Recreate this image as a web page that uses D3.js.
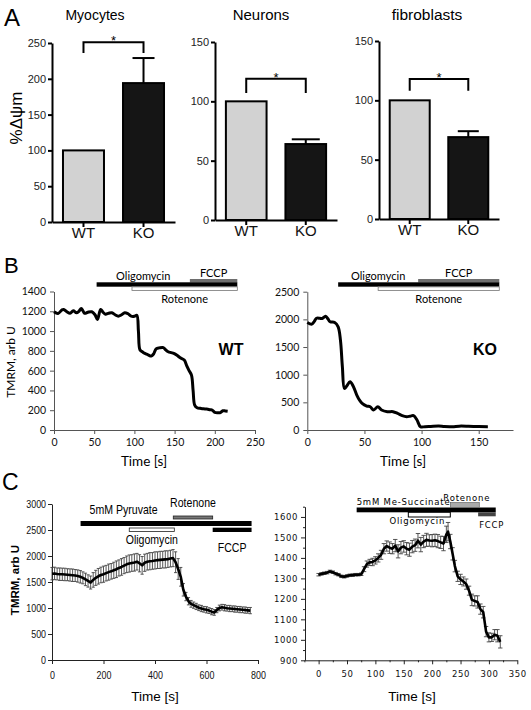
<!DOCTYPE html>
<html><head><meta charset="utf-8">
<script src="https://cdn.jsdelivr.net/npm/d3@7"></script>
<style>body{margin:0;background:#fff}svg{display:block}</style>
</head><body>
<svg id="fig" width="531" height="710"></svg>
<script>
// ---------------- DATA ----------------
const barCategories = ["WT", "KO"];
const myocytesMean = [100, 194];
const myocytesSem = [0, 35];
const neuronsMean = [100, 64];
const neuronsSem = [0, 4];
const fibroblastsMean = [100, 69];
const fibroblastsSem = [0, 5];
const myocytesTicks = [0, 50, 100, 150, 200, 250];
const percentTicks = [0, 50, 100, 150];

const wtTime = [0,5,10,12,16,20,24,28,31,34,38,42,47,51,54,58,61,64,68,72,76,80,84,88,92,96,100,103,105,107,110,113,117,121,124,127,131,136,139,142,146,149,153,157,162,165,168,171,173,175,178,182,186,190,194,197,200,204,207,210,213,216];
const wtTmrm = [1195,1178,1215,1219,1195,1180,1205,1185,1200,1229,1180,1190,1195,1165,1117,1219,1190,1171,1180,1185,1165,1151,1165,1185,1175,1151,1150,1160,1000,808,790,774,760,747,770,820,830,833,810,791,782,774,755,730,707,650,600,555,400,252,225,219,214,212,205,200,178,175,176,195,193,190];
const wtXTicks = [0, 50, 100, 150, 200, 250];
const wtYTicks = [0, 200, 400, 600, 800, 1000, 1200, 1400];
const wtTreatments = [
  {label: "Oligomycin", start: 53, end: 228},
  {label: "FCCP", start: 169, end: 228},
  {label: "Rotenone", start: 97, end: 228}
];

const koTime = [0,4,6,8,11,13,16,18,20,24,27,29,30.7,32.5,34.5,37.4,40.4,43.3,46,48,52,55,58,61.7,65,70,75,79,83,87,90,93,96,99,103,108,115,120,127,133,141,150,158];
const koTmrm = [1944,1914,1960,2020,2020,2015,2057,2010,1956,1944,1866,1625,1143,752,794,872,782,632,530,481,433,420,361,421,361,331,331,300,260,241,250,259,181,60,60,65,72,62,60,70,68,62,60];
const koXTicks = [0, 50, 100, 150];
const koYTicks = [0, 500, 1000, 1500, 2000, 2500];
const koTreatments = [
  {label: "Oligomycin", start: 27, end: 168},
  {label: "FCCP", start: 97, end: 168},
  {label: "Rotenone", start: 62, end: 168}
];

const pyruvateTime = [0,10,20,30,40,50,60,70,80,90,100,110,120,130,140,150,160,170,180,190,200,210,220,230,240,250,260,270,280,290,300,310,320,330,340,350,360,370,380,390,400,410,420,430,440,450,460,470,480,490,500,510,520,530,540,550,560,570,580,590,600,610,620,630,640,650,660,670,680,690,700,710,720,730,740,750,760,770];
const pyruvateMean = [1660,1665,1655,1650,1648,1645,1640,1635,1630,1625,1615,1600,1580,1550,1520,1490,1540,1580,1610,1635,1650,1670,1690,1705,1725,1745,1770,1790,1815,1840,1855,1865,1875,1890,1860,1820,1870,1890,1900,1905,1915,1920,1925,1930,1935,1940,1950,1960,1880,1750,1600,1350,1220,1130,1080,1055,1030,1005,990,975,965,950,930,915,960,1000,1015,1005,995,990,985,980,975,970,965,960,955,950];
const pyruvateSem = [120,120,115,120,118,120,115,118,120,115,118,120,115,120,118,125,140,145,150,150,155,150,155,150,155,160,155,160,155,160,165,160,165,160,165,170,165,160,165,160,165,160,165,160,165,160,160,165,200,200,180,120,80,70,65,60,60,55,60,55,60,55,60,55,50,55,55,60,55,60,55,60,55,60,55,60,55,60];
const pyruvateXTicks = [0, 200, 400, 600, 800];
const pyruvateYTicks = [0, 500, 1000, 1500, 2000, 2500, 3000];
const pyruvateTreatments = [
  {label: "5mM Pyruvate", start: 111, end: 775},
  {label: "Rotenone", start: 471, end: 624},
  {label: "Oligomycin", start: 300, end: 475},
  {label: "FCCP", start: 624, end: 775}
];

const succinateTime = [0,5,10,15,20,25,30,35,40,45,50,55,60,65,70,75,80,85,90,95,100,105,110,115,120,125,130,135,140,145,150,155,160,165,170,175,180,185,190,195,200,205,210,215,220,225,228,232,236,240,245,250,255,260,265,270,275,280,285,290,295,300,305,310,315,320];
const succinateMean = [1318,1322,1325,1328,1334,1330,1323,1318,1310,1308,1312,1315,1316,1318,1318,1320,1345,1370,1378,1380,1388,1400,1415,1445,1458,1450,1445,1460,1432,1450,1456,1445,1440,1455,1462,1484,1465,1480,1488,1485,1484,1486,1482,1476,1470,1515,1528,1480,1420,1360,1310,1295,1285,1272,1240,1195,1190,1185,1150,1135,1040,1012,1012,1025,1020,990];
const succinateSem = [6,6,6,6,6,6,6,6,6,6,6,6,6,6,6,6,12,15,15,18,18,20,22,25,25,28,25,30,32,30,28,30,32,30,30,35,35,30,32,28,30,30,32,30,35,40,45,35,30,28,25,25,22,25,22,28,25,30,25,28,25,22,20,25,30,30];
const succinateXTicks = [0, 50, 100, 150, 200, 250, 300, 350];
const succinateYTicks = [900, 1000, 1100, 1200, 1300, 1400, 1500, 1600];
const succinateTreatments = [
  {label: "5mM Me-Succinate", start: 67, end: 312},
  {label: "Rotenone", start: 232, end: 283},
  {label: "Oligomycin", start: 158, end: 232},
  {label: "FCCP", start: 281, end: 312}
];

// ---------------- DRAWING ----------------
const svg = d3.select("#fig");
const fA = "'Liberation Sans', Arial, sans-serif";
const fB = "Lato, 'Open Sans', sans-serif";
const fC = "'Liberation Sans Narrow', 'Liberation Sans', Arial, sans-serif";
const fCR = "'DejaVu Sans', sans-serif";
const intFmt = d3.format("d");

function panelLetter(txt, x, y, size) {
  svg.append("text").attr("x", x).attr("y", y).attr("font-family", fA)
    .attr("font-size", size).text(txt);
}
panelLetter("A", 4, 26, 24);
panelLetter("B", 4, 273, 22);
panelLetter("C", 2, 490, 23);

// ---- Panel A bar charts ----
const barFills = ["#d2d2d2", "#151515"];
function barPanel(cfg) {
  const g = svg.append("g");
  const x = d3.scaleBand().domain(barCategories).range([cfg.left, cfg.right])
    .paddingInner(0.317).paddingOuter(0.183);
  const y = d3.scaleLinear().domain([0, cfg.max]).range([cfg.bottom, cfg.top]);
  const cx = c => x(c) + x.bandwidth() / 2;

  g.selectAll("rect.bar").data(cfg.mean).join("rect").attr("class", "bar")
    .attr("x", (d, i) => x(barCategories[i])).attr("y", d => y(d))
    .attr("width", x.bandwidth()).attr("height", d => y(0) - y(d))
    .attr("fill", (d, i) => barFills[i]).attr("stroke", "#000").attr("stroke-width", 2);

  cfg.sem.forEach((s, i) => {
    if (!s) return;
    const c = cx(barCategories[i]);
    g.append("line").attr("x1", c).attr("x2", c)
      .attr("y1", y(cfg.mean[i])).attr("y2", y(cfg.mean[i] + s))
      .attr("stroke", "#000").attr("stroke-width", 2);
    g.append("line").attr("x1", c - cfg.cap / 2).attr("x2", c + cfg.cap / 2)
      .attr("y1", y(cfg.mean[i] + s)).attr("y2", y(cfg.mean[i] + s))
      .attr("stroke", "#000").attr("stroke-width", 2);
  });

  const ya = g.append("g").attr("transform", `translate(${cfg.left},0)`)
    .call(d3.axisLeft(y).tickValues(cfg.ticks).tickFormat(intFmt).tickSize(4).tickSizeOuter(0).tickPadding(2));
  const xa = g.append("g").attr("transform", `translate(0,${cfg.bottom})`)
    .call(d3.axisBottom(x).tickSize(5).tickSizeOuter(0).tickPadding(0));
  [ya, xa].forEach(a => {
    a.select(".domain").attr("stroke-width", 2).attr("stroke", "#000");
    a.selectAll(".tick line").attr("stroke-width", 2).attr("stroke", "#000");
  });
  ya.selectAll("text").attr("font-family", fA).attr("font-size", 11).attr("fill", "#222");
  xa.selectAll("text").attr("font-family", fA).attr("font-size", 15).attr("fill", "#111");

  // significance bracket
  const b0 = cx(barCategories[0]), b1 = cx(barCategories[1]);
  g.append("path").attr("d", `M${b0},${y(cfg.brLow)}V${y(cfg.brTop)}H${b1}V${y(cfg.brLow)}`)
    .attr("fill", "none").attr("stroke", "#000").attr("stroke-width", 2);
  g.append("text").attr("x", (b0 + b1) / 2).attr("y", y(cfg.brTop) + 3)
    .attr("text-anchor", "middle").attr("font-family", fA).attr("font-size", 13).text("*");

  g.append("text").attr("x", cfg.titleX).attr("y", 20).attr("text-anchor", "middle")
    .attr("font-family", fA).attr("font-size", cfg.titleSize).text(cfg.title);
}

barPanel({title: "Myocytes", titleX: 95, titleSize: 14, left: 52, right: 175, top: 43, bottom: 222,
  max: 250, ticks: myocytesTicks, mean: myocytesMean, sem: myocytesSem, cap: 22, brTop: 251, brLow: 236});
barPanel({title: "Neurons", titleX: 261, titleSize: 15, left: 215, right: 337, top: 42, bottom: 220,
  max: 150, ticks: percentTicks, mean: neuronsMean, sem: neuronsSem, cap: 28, brTop: 119, brLow: 107});
barPanel({title: "fibroblasts", titleX: 427, titleSize: 15.5, left: 379, right: 499, top: 41, bottom: 219,
  max: 150, ticks: percentTicks, mean: fibroblastsMean, sem: fibroblastsSem, cap: 21, brTop: 118, brLow: 108});

svg.append("text").attr("transform", "translate(22,118) rotate(-90)").attr("text-anchor", "middle")
  .attr("font-family", fA).attr("font-size", 17).text("%\u0394\u03c8m");

// ---- Panel B traces ----
function tracePanel(cfg) {
  const g = svg.append("g");
  const x = d3.scaleLinear().domain(cfg.xDomain).range([cfg.left, cfg.right]);
  const y = d3.scaleLinear().domain(cfg.yDomain).range([cfg.bottom, cfg.top]);
  const ya = g.append("g").attr("transform", `translate(${cfg.left},0)`)
    .call(d3.axisLeft(y).tickValues(cfg.yTicks).tickFormat(intFmt).tickSize(4).tickSizeOuter(0).tickPadding(4));
  const xa = g.append("g").attr("transform", `translate(0,${cfg.bottom})`)
    .call(d3.axisBottom(x).tickValues(cfg.xTicks).tickFormat(intFmt).tickSize(4).tickSizeOuter(0).tickPadding(5));
  [ya, xa].forEach(a => {
    a.select(".domain").attr("stroke", "#555").attr("stroke-width", 1);
    a.selectAll(".tick line").attr("stroke", "#555");
    a.selectAll("text").attr("font-family", fB).attr("font-size", 10.5).attr("fill", "#111");
  });
  const line = d3.line().x((d, i) => x(cfg.time[i])).y(d => y(d)).curve(d3.curveCatmullRom.alpha(0.5));
  g.append("path").datum(cfg.values).attr("d", line).attr("fill", "none")
    .attr("stroke", "#000").attr("stroke-width", 3).attr("stroke-linejoin", "round");

  // treatment bars
  const [oli, fccp, rot] = cfg.treat;
  g.append("rect").attr("x", x(fccp.start)).attr("width", x(fccp.end) - x(fccp.start))
    .attr("y", 279).attr("height", 3.5).attr("fill", "#6e6e6e");
  g.append("rect").attr("x", x(oli.start)).attr("width", x(oli.end) - x(oli.start))
    .attr("y", 282.3).attr("height", 4.4).attr("fill", "#000");
  g.append("rect").attr("x", x(rot.start)).attr("width", x(rot.end) - x(rot.start))
    .attr("y", 286.9).attr("height", 3.6).attr("fill", "#fff").attr("stroke", "#777").attr("stroke-width", 0.8);
  g.append("text").attr("x", (x(oli.start) + x(fccp.start)) / 2).attr("y", 280)
    .attr("text-anchor", "middle").attr("font-family", fB).attr("font-size", 11).text(oli.label);
  g.append("text").attr("x", (x(fccp.start) + x(fccp.end)) / 2).attr("y", 277)
    .attr("text-anchor", "middle").attr("font-family", fB).attr("font-size", 11).text(fccp.label);
  g.append("text").attr("x", (x(rot.start) + x(rot.end)) / 2).attr("y", 302.5)
    .attr("text-anchor", "middle").attr("font-family", fB).attr("font-size", 11).text(rot.label);

  g.append("text").attr("x", cfg.xTitleX).attr("y", 466).attr("text-anchor", "middle")
    .attr("font-family", fB).attr("font-size", 13.5).text("Time [s]");
  g.append("text").attr("x", cfg.tagX).attr("y", 355).attr("text-anchor", "middle")
    .attr("font-family", fA).attr("font-weight", "bold").attr("font-size", 16).text(cfg.tag);
}
tracePanel({left: 54, right: 255, top: 291.5, bottom: 430, xDomain: [0, 250], yDomain: [0, 1400],
  xTicks: wtXTicks, yTicks: wtYTicks, time: wtTime, values: wtTmrm, treat: wtTreatments,
  xTitleX: 144, tag: "WT", tagX: 231});
tracePanel({left: 307.3, right: 513, top: 291.7, bottom: 430, xDomain: [0, 180], yDomain: [0, 2500],
  xTicks: koXTicks, yTicks: koYTicks, time: koTime, values: koTmrm, treat: koTreatments,
  xTitleX: 403, tag: "KO", tagX: 485});
svg.append("text").attr("transform", "translate(15,362) rotate(-90)").attr("text-anchor", "middle")
  .attr("font-family", fB).attr("font-size", 12).text("TMRM, arb U");

// ---- Panel C traces with error bars ----
function errPanel(cfg) {
  const g = svg.append("g");
  const x = d3.scaleLinear().domain(cfg.xDomain).range([cfg.left, cfg.right]);
  const y = d3.scaleLinear().domain(cfg.yDomain).range([cfg.bottom, cfg.top]);
  const ya = g.append("g").attr("transform", `translate(${x(cfg.xDomain[0])},0)`)
    .call(d3.axisLeft(y).tickValues(cfg.yTicks).tickFormat(intFmt).tickSize(4).tickSizeOuter(0).tickPadding(3));
  const xa = g.append("g").attr("transform", `translate(0,${cfg.bottom})`)
    .call(d3.axisBottom(x).tickValues(cfg.xTicks).tickFormat(intFmt).tickSize(4).tickSizeOuter(0).tickPadding(cfg.xPad));
  [ya, xa].forEach(a => {
    a.select(".domain").attr("stroke", "#222").attr("stroke-width", 1);
    a.selectAll(".tick line").attr("stroke", "#222");
    a.selectAll("text").attr("font-family", cfg.font).attr("font-size", cfg.tickSize)
      .attr("letter-spacing", cfg.spacing).attr("fill", "#111");
    if (cfg.squeeze) a.selectAll("text").attr("transform", `scale(${cfg.squeeze},1)`);
  });
  if (cfg.minorY) {
    g.append("g").attr("transform", `translate(${x(cfg.xDomain[0])},0)`)
      .call(d3.axisLeft(y).tickValues(cfg.minorY).tickSize(2).tickFormat(""))
      .call(a => a.select(".domain").remove()).selectAll("line").attr("stroke", "#222");
    g.append("g").attr("transform", `translate(0,${cfg.bottom})`)
      .call(d3.axisBottom(x).tickValues(cfg.minorX).tickSize(2).tickFormat(""))
      .call(a => a.select(".domain").remove()).selectAll("line").attr("stroke", "#222");
  }
  // error bars
  const eg = g.append("g").attr("stroke", "#444").attr("stroke-width", 0.9);
  cfg.values.forEach((m, i) => {
    const xx = x(cfg.time[i]), e = cfg.sem[i];
    eg.append("line").attr("x1", xx).attr("x2", xx).attr("y1", y(m - e)).attr("y2", y(m + e));
    eg.append("line").attr("x1", xx - cfg.cap).attr("x2", xx + cfg.cap).attr("y1", y(m + e)).attr("y2", y(m + e));
    eg.append("line").attr("x1", xx - cfg.cap).attr("x2", xx + cfg.cap).attr("y1", y(m - e)).attr("y2", y(m - e));
  });
  const line = d3.line().x((d, i) => x(cfg.time[i])).y(d => y(d));
  g.append("path").datum(cfg.values).attr("d", line).attr("fill", "none")
    .attr("stroke", "#000").attr("stroke-width", 2.6).attr("stroke-linejoin", "round");
  g.append("text").attr("x", cfg.xTitleX).attr("y", 701).attr("text-anchor", "middle")
    .attr("font-family", fA).attr("font-size", 13.5).text("Time [s]");
  return {g, x, y};
}

const cl = errPanel({left: 52, right: 258, top: 504, bottom: 660, xDomain: [0, 800], yDomain: [0, 3000],
  xTicks: pyruvateXTicks, yTicks: pyruvateYTicks, time: pyruvateTime, values: pyruvateMean, sem: pyruvateSem,
  font: fC, tickSize: 10.5, spacing: 0, xPad: 8, cap: 1.6, xTitleX: 155, squeeze: 0.85});
{
  const {g, x} = cl;
  const [pyr, rot, oli, fccp] = pyruvateTreatments;
  g.append("rect").attr("x", x(pyr.start)).attr("width", x(pyr.end) - x(pyr.start)).attr("y", 521).attr("height", 5).attr("fill", "#000");
  g.append("rect").attr("x", x(rot.start)).attr("width", x(rot.end) - x(rot.start)).attr("y", 516).attr("height", 3)
    .attr("fill", "#777").attr("stroke", "#222").attr("stroke-width", 0.8);
  g.append("rect").attr("x", x(oli.start)).attr("width", x(oli.end) - x(oli.start)).attr("y", 528).attr("height", 3.5)
    .attr("fill", "#fff").attr("stroke", "#222").attr("stroke-width", 0.8);
  g.append("rect").attr("x", x(fccp.start)).attr("width", x(fccp.end) - x(fccp.start)).attr("y", 527.7).attr("height", 4.3).attr("fill", "#000");
  const t = (s, xx, yy, anchor) => g.append("text").attr("transform", `translate(${xx},${yy}) scale(0.88,1)`)
    .attr("text-anchor", anchor).attr("font-family", fC).attr("font-size", 12).text(s);
  t(pyr.label, x(pyr.start) + 9, 513.5, "start");
  t(rot.label, (x(rot.start) + x(rot.end)) / 2, 507, "middle");
  t(oli.label, (x(oli.start) + x(oli.end)) / 2, 543.5, "middle");
  t(fccp.label, (x(fccp.start) + x(fccp.end)) / 2, 551.5, "middle");
}
svg.append("text").attr("transform", "translate(19,580) rotate(-90)").attr("text-anchor", "middle")
  .attr("font-family", fA).attr("font-weight", "bold").attr("font-size", 11.5).text("TMRM, arb U");

const minorSuccY = [950, 1050, 1150, 1250, 1350, 1450, 1550, 1650];
const minorSuccX = [-25, 25, 75, 125, 175, 225, 275, 325];
const cr = errPanel({left: 305, right: 517.3, top: 506.7, bottom: 660.3, xDomain: [-24, 350], yDomain: [900, 1650],
  xTicks: succinateXTicks, yTicks: succinateYTicks, minorY: minorSuccY, minorX: minorSuccX,
  time: succinateTime, values: succinateMean, sem: succinateSem,
  font: fCR, tickSize: 8.5, spacing: 0.6, xPad: 7, cap: 2.2, xTitleX: 412});
{
  const {g, x} = cr;
  const [suc, rot, oli, fccp] = succinateTreatments;
  g.append("rect").attr("x", x(suc.start)).attr("width", x(suc.end) - x(suc.start)).attr("y", 507.5).attr("height", 4.8).attr("fill", "#000");
  g.append("rect").attr("x", x(rot.start)).attr("width", x(rot.end) - x(rot.start)).attr("y", 502.5).attr("height", 5)
    .attr("fill", "#aaa").attr("stroke", "#555").attr("stroke-width", 0.6);
  g.append("rect").attr("x", x(oli.start)).attr("width", x(oli.end) - x(oli.start)).attr("y", 512.3).attr("height", 4.7)
    .attr("fill", "#fff").attr("stroke", "#000").attr("stroke-width", 1);
  g.append("rect").attr("x", x(fccp.start)).attr("width", x(fccp.end) - x(fccp.start)).attr("y", 512.3).attr("height", 4)
    .attr("fill", "#444");
  const t = (s, xx, yy, anchor) => g.append("text").attr("x", xx).attr("y", yy).attr("text-anchor", anchor)
    .attr("font-family", fCR).attr("font-size", 8.5).attr("letter-spacing", 0.8).text(s);
  t(suc.label, x(suc.start), 505, "start");
  t(rot.label, (x(rot.start) + x(rot.end)) / 2 + 2, 500.5, "middle");
  t(oli.label, (x(oli.start) + x(oli.end)) / 2 - 12, 523.5, "middle");
  t(fccp.label, x(fccp.start) + 1, 528, "start");
}
</script>
</body></html>
